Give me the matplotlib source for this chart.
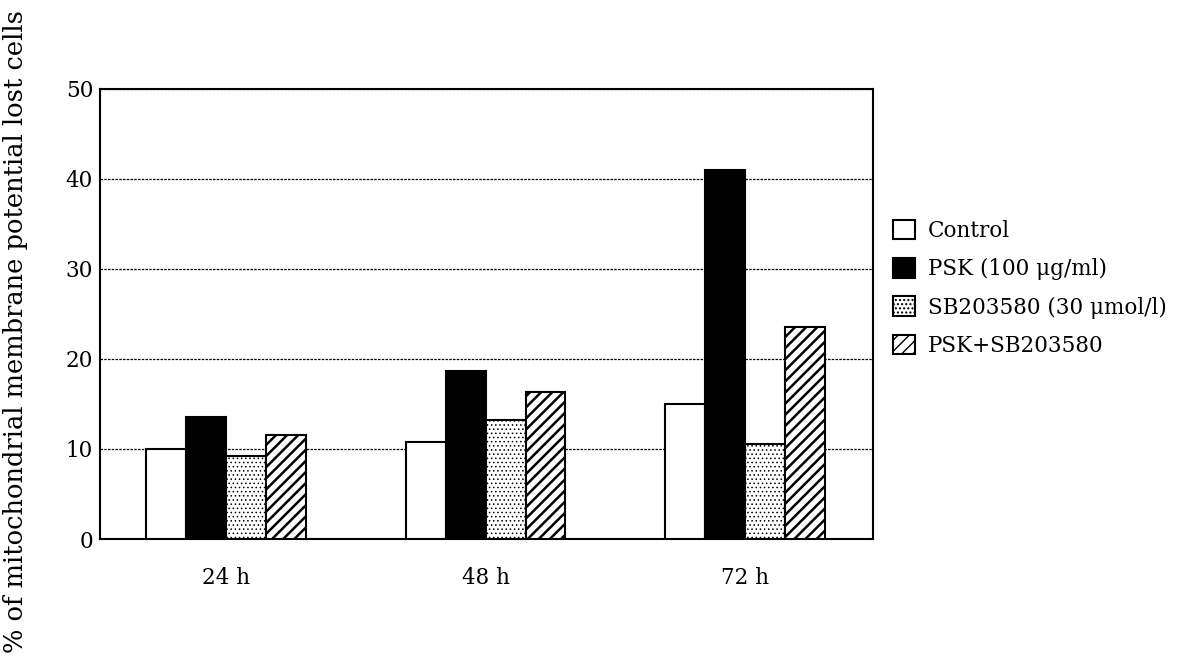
import numpy as np
import matplotlib
matplotlib.use("Agg")
import matplotlib.pyplot as plt

plt.rcParams['font.family'] = ['DejaVu Serif']

groups = ['24 h', '48 h', '72 h']
series = ['Control', 'PSK (100 μg/ml)', 'SB203580 (30 μmol/l)', 'PSK+SB203580']
control = [10.0, 10.8, 15.0]
psk = [13.5, 18.7, 41.0]
sb = [9.2, 13.2, 10.5]
psk_sb = [11.6, 16.3, 23.5]

fig = plt.figure(figsize=(11.88, 6.67), dpi=100)
ax = fig.add_axes([0.0842, 0.1919, 0.6506, 0.6747])

x = np.arange(len(groups))
w = 0.154
styles = [
    dict(color='white', hatch=None, hlw=1.0),
    dict(color='black', hatch=None, hlw=1.0),
    dict(color='white', hatch='....', hlw=0.6),
    dict(color='white', hatch='///', hlw=1.8),
]
for i, (vals, lab, st) in enumerate(zip([control, psk, sb, psk_sb], series, styles)):
    with plt.rc_context({'hatch.linewidth': st['hlw']}):
        ax.bar(x + (i - 1.5) * w, vals, w, label=lab, facecolor=st['color'],
               edgecolor='black', linewidth=1.5, hatch=st['hatch'], zorder=3)

ax.set_ylim(0, 50)
ax.set_xlim(-0.486, 2.493)
ax.set_yticks(np.arange(0, 51, 10))
ax.set_xticks(x)
ax.set_xticklabels(groups, fontsize=15.5)
ax.tick_params(axis='both', length=0)
ax.tick_params(axis='y', labelsize=15.5, pad=5)
ax.tick_params(axis='x', pad=20)
ax.yaxis.grid(True, linestyle=(0, (2, 1)), color='black', linewidth=0.9, zorder=0)
ax.set_axisbelow(True)
for s in ax.spines.values():
    s.set_linewidth(1.5)

fig.text(0.013, 0.503, '% of mitochondrial membrane potential lost cells',
         rotation=90, fontsize=18.5, ha='center', va='center')

ax.legend(loc='center left', bbox_to_anchor=(1.015, 0.557), frameon=False,
          fontsize=15.5, handlelength=1.0, handleheight=1.0, handletextpad=0.6,
          labelspacing=0.75, borderaxespad=0)

fig.savefig('out.png', dpi=100)
